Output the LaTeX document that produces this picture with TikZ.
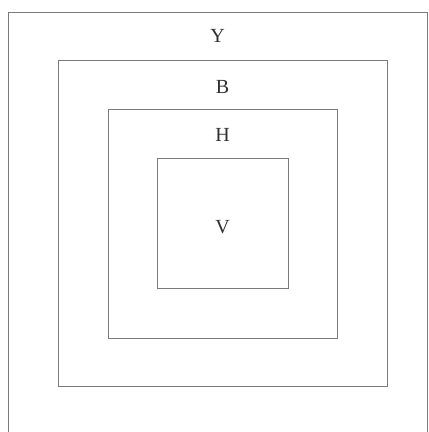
\documentclass[tikz,border=0pt]{standalone}
\usepackage{fontspec}
\setmainfont{Liberation Serif}
\usepackage{xcolor}
\definecolor{frameGray}{HTML}{7A7A7A}
\definecolor{darkText}{HTML}{303030}
\usepackage{tikz}
\usetikzlibrary{positioning}
\tikzset{
    % Nested square frames
    frame/.style={
        rectangle,
        draw=frameGray,
        line width=0.9pt,
        inner sep=0pt,
    },
    % Letter labels
    letter/.style={
        font=\fontsize{20}{24}\selectfont,
        text=darkText,
        inner sep=0pt,
    },
}
\begin{document}
\begin{tikzpicture}[x=1pt, y=-1pt]
    \useasboundingbox (0,0) rectangle (429,432);
    \clip (0,0) rectangle (429,432);

    \node (yBox) [frame, minimum width=419pt, minimum height=428pt] at (217.5,226) {};
    \node (bBox) [frame, minimum width=329pt, minimum height=326pt] at (222.5,223) {};
    \node (hBox) [frame, minimum width=229pt, minimum height=229pt] at (222.5,223.5) {};
    \node (vBox) [frame, minimum width=131pt, minimum height=130pt] at (222.5,223) {};

    \node (yLabel) [letter] at ([yshift=-24pt]yBox.north) {Y};
    \node (bLabel) [letter] at ([yshift=-27pt]bBox.north) {B};
    \node (hLabel) [letter] at ([yshift=-26pt]hBox.north) {H};
    \node (vLabel) [letter] at ([yshift=-4pt]vBox.center) {V};
\end{tikzpicture}
\end{document}
